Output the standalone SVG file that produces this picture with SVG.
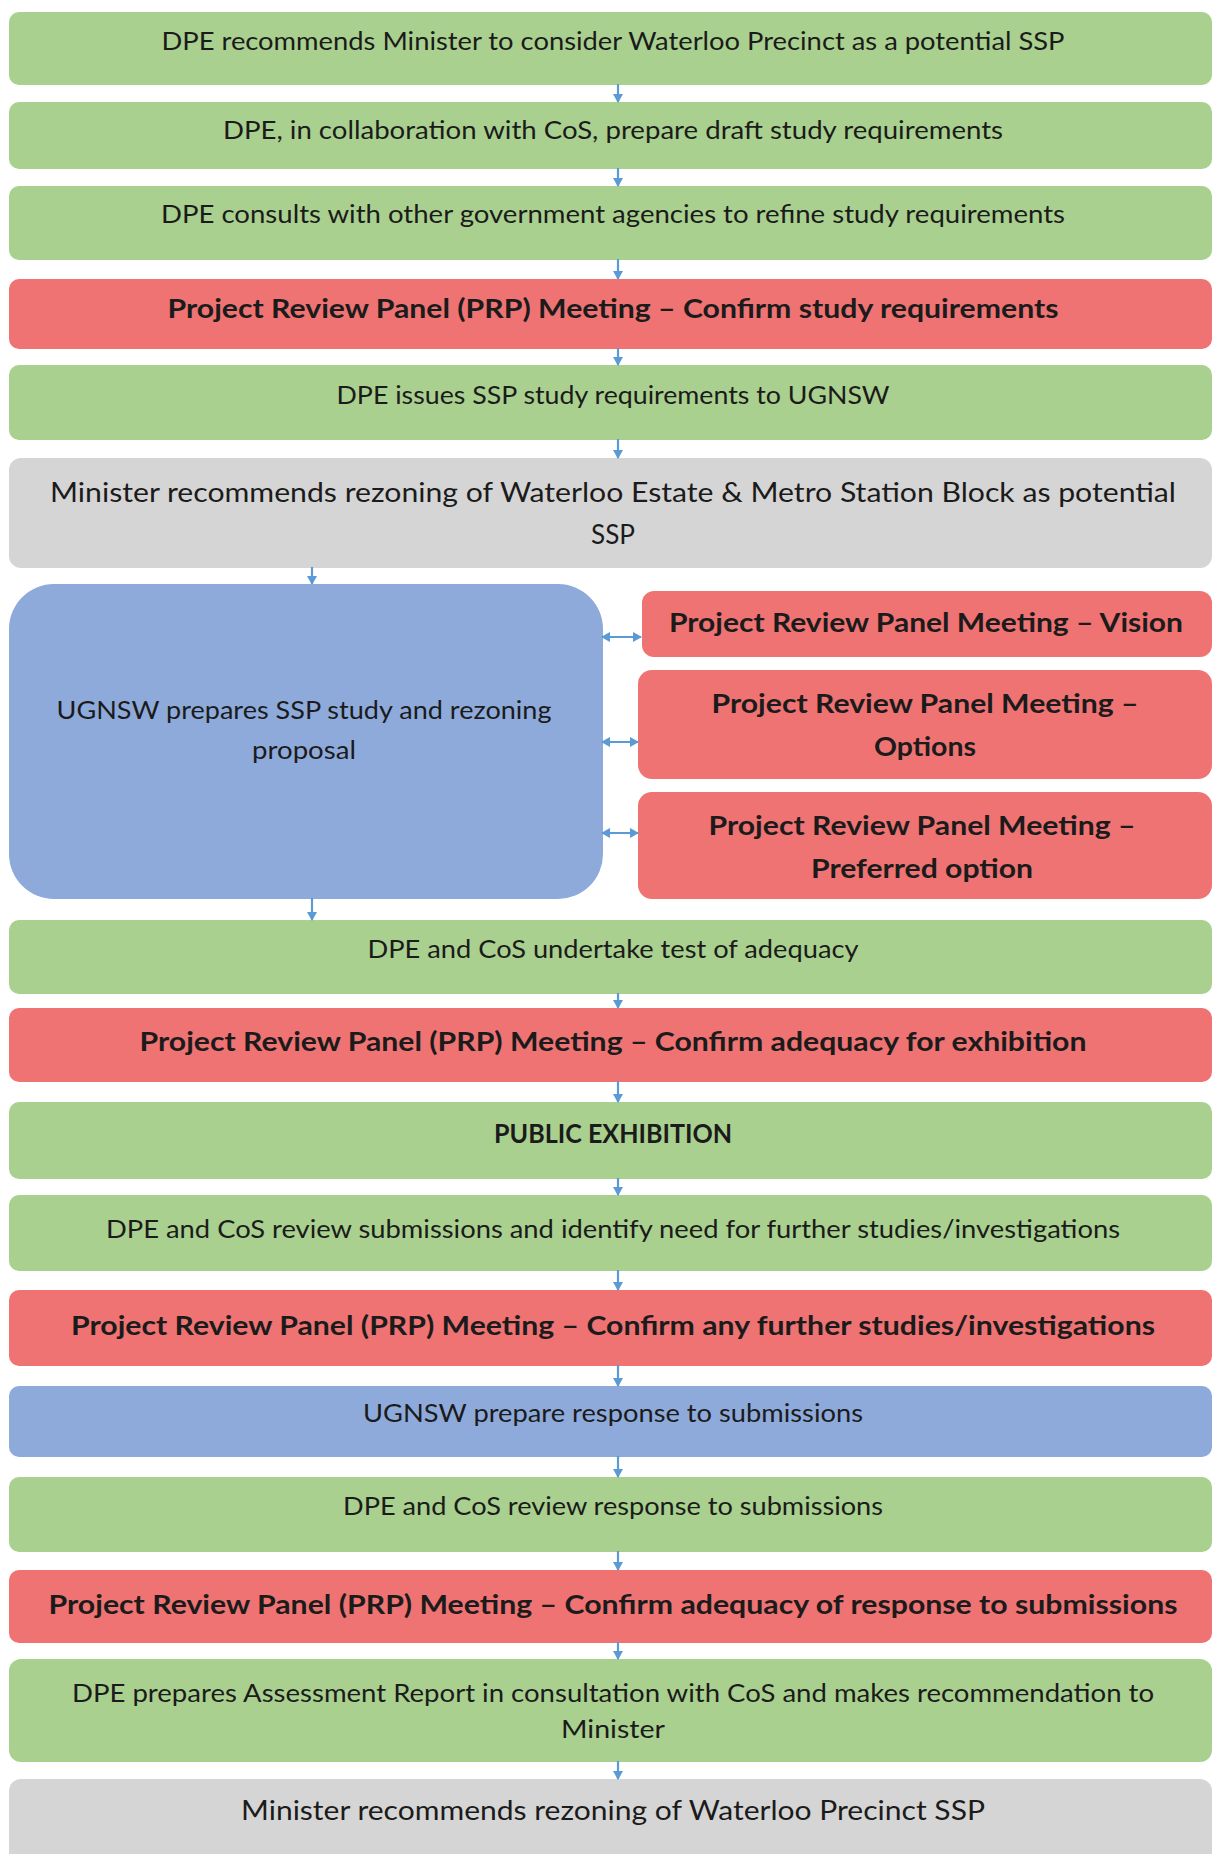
<svg xmlns="http://www.w3.org/2000/svg" width="1213" height="1854" viewBox="0 0 1213 1854">
<defs>
<style>
.g{fill:#a9d08e}
.r{fill:#ef7373}
.gr{fill:#d6d5d5}
.b{fill:#8eaadb}
text{font-family:Lato,"Open Sans","Liberation Sans",sans-serif;font-size:25px;fill:#1b1b1b;text-anchor:middle}
.bold{font-weight:bold;font-size:26px}
.big{font-size:27px}
.c line{stroke:#5b9bd5;stroke-width:2.2;fill:none}
</style>
<marker id="ah" markerWidth="10" markerHeight="10" refX="8" refY="5" orient="auto" markerUnits="userSpaceOnUse">
<path d="M0,0 L9,5 L0,10 Z" fill="#5b9bd5"/>
</marker>
<marker id="as" markerWidth="10" markerHeight="10" refX="1" refY="5" orient="auto" markerUnits="userSpaceOnUse">
<path d="M9,0 L0,5 L9,10 Z" fill="#5b9bd5"/>
</marker>
</defs>
<rect width="1213" height="1854" fill="#ffffff"/>

<g id="n1"><rect class="g" x="9" y="12" width="1203" height="73" rx="10"/><text x="613" y="50" textLength="903" lengthAdjust="spacingAndGlyphs">DPE recommends Minister to consider Waterloo Precinct as a potential SSP</text></g>
<g id="n2"><rect class="g" x="9" y="102" width="1203" height="67" rx="10"/><text x="613" y="139" textLength="780" lengthAdjust="spacingAndGlyphs">DPE, in collaboration with CoS, prepare draft study requirements</text></g>
<g id="n3"><rect class="g" x="9" y="186" width="1203" height="74" rx="10"/><text x="613" y="223" textLength="904" lengthAdjust="spacingAndGlyphs">DPE consults with other government agencies to refine study requirements</text></g>
<g id="n4"><rect class="r" x="9" y="279" width="1203" height="70" rx="10"/><text class="bold" x="613" y="318" textLength="891" lengthAdjust="spacingAndGlyphs">Project Review Panel (PRP) Meeting – Confirm study requirements</text></g>
<g id="n5"><rect class="g" x="9" y="365" width="1203" height="75" rx="10"/><text x="613" y="404" textLength="553" lengthAdjust="spacingAndGlyphs">DPE issues SSP study requirements to UGNSW</text></g>
<g id="n6"><rect class="gr" x="9" y="458" width="1203" height="110" rx="12"/><text class="big" x="613" y="502" textLength="1126" lengthAdjust="spacingAndGlyphs">Minister recommends rezoning of Waterloo Estate &amp; Metro Station Block as potential</text><text class="big" x="613" y="544" textLength="44" lengthAdjust="spacingAndGlyphs">SSP</text></g>
<g id="n7"><rect class="b" x="9" y="584" width="594" height="315" rx="45"/><text x="304" y="719" textLength="495" lengthAdjust="spacingAndGlyphs">UGNSW prepares SSP study and rezoning</text><text x="304" y="759" textLength="104" lengthAdjust="spacingAndGlyphs">proposal</text></g>
<g id="n8"><rect class="r" x="642" y="591" width="570" height="66" rx="12"/><text class="bold" x="926" y="632" textLength="514" lengthAdjust="spacingAndGlyphs">Project Review Panel Meeting – Vision</text></g>
<g id="n9"><rect class="r" x="638" y="670" width="574" height="109" rx="14"/><text class="bold" x="925" y="713" textLength="427" lengthAdjust="spacingAndGlyphs">Project Review Panel Meeting –</text><text class="bold" x="925" y="756" textLength="102" lengthAdjust="spacingAndGlyphs">Options</text></g>
<g id="n10"><rect class="r" x="638" y="792" width="574" height="107" rx="14"/><text class="bold" x="922" y="835" textLength="427" lengthAdjust="spacingAndGlyphs">Project Review Panel Meeting –</text><text class="bold" x="922" y="878" textLength="222" lengthAdjust="spacingAndGlyphs">Preferred option</text></g>
<g id="n11"><rect class="g" x="9" y="920" width="1203" height="74" rx="10"/><text x="613" y="958" textLength="491" lengthAdjust="spacingAndGlyphs">DPE and CoS undertake test of adequacy</text></g>
<g id="n12"><rect class="r" x="9" y="1008" width="1203" height="74" rx="10"/><text class="bold" x="613" y="1051" textLength="947" lengthAdjust="spacingAndGlyphs">Project Review Panel (PRP) Meeting – Confirm adequacy for exhibition</text></g>
<g id="n13"><rect class="g" x="9" y="1102" width="1203" height="77" rx="10"/><text class="bold" x="613" y="1143" textLength="238" lengthAdjust="spacingAndGlyphs">PUBLIC EXHIBITION</text></g>
<g id="n14"><rect class="g" x="9" y="1195" width="1203" height="76" rx="10"/><text x="613" y="1238" textLength="1014" lengthAdjust="spacingAndGlyphs">DPE and CoS review submissions and identify need for further studies/investigations</text></g>
<g id="n15"><rect class="r" x="9" y="1290" width="1203" height="76" rx="10"/><text class="bold" x="613" y="1335" textLength="1084" lengthAdjust="spacingAndGlyphs">Project Review Panel (PRP) Meeting – Confirm any further studies/investigations</text></g>
<g id="n16"><rect class="b" x="9" y="1386" width="1203" height="71" rx="10"/><text x="613" y="1422" textLength="500" lengthAdjust="spacingAndGlyphs">UGNSW prepare response to submissions</text></g>
<g id="n17"><rect class="g" x="9" y="1477" width="1203" height="75" rx="10"/><text x="613" y="1515" textLength="540" lengthAdjust="spacingAndGlyphs">DPE and CoS review response to submissions</text></g>
<g id="n18"><rect class="r" x="9" y="1570" width="1203" height="73" rx="10"/><text class="bold" x="613" y="1614" textLength="1129" lengthAdjust="spacingAndGlyphs">Project Review Panel (PRP) Meeting – Confirm adequacy of response to submissions</text></g>
<g id="n19"><rect class="g" x="9" y="1659" width="1203" height="103" rx="12"/><text x="613" y="1702" textLength="1082" lengthAdjust="spacingAndGlyphs">DPE prepares Assessment Report in consultation with CoS and makes recommendation to</text><text x="613" y="1738" textLength="104" lengthAdjust="spacingAndGlyphs">Minister</text></g>
<g id="n20"><rect class="gr" x="9" y="1779" width="1203" height="90" rx="12"/><text class="big" x="613" y="1820" textLength="744" lengthAdjust="spacingAndGlyphs">Minister recommends rezoning of Waterloo Precinct SSP</text></g>

<g id="connectors" class="c">
<line x1="618" y1="84" x2="618" y2="102" marker-end="url(#ah)"/>
<line x1="618" y1="168" x2="618" y2="186" marker-end="url(#ah)"/>
<line x1="618" y1="259" x2="618" y2="279" marker-end="url(#ah)"/>
<line x1="618" y1="348" x2="618" y2="365" marker-end="url(#ah)"/>
<line x1="618" y1="439" x2="618" y2="458" marker-end="url(#ah)"/>
<line x1="312" y1="567" x2="312" y2="584" marker-end="url(#ah)"/>
<line x1="312" y1="898" x2="312" y2="920" marker-end="url(#ah)"/>
<line x1="618" y1="993" x2="618" y2="1008" marker-end="url(#ah)"/>
<line x1="618" y1="1081" x2="618" y2="1102" marker-end="url(#ah)"/>
<line x1="618" y1="1178" x2="618" y2="1195" marker-end="url(#ah)"/>
<line x1="618" y1="1270" x2="618" y2="1290" marker-end="url(#ah)"/>
<line x1="618" y1="1365" x2="618" y2="1386" marker-end="url(#ah)"/>
<line x1="618" y1="1456" x2="618" y2="1477" marker-end="url(#ah)"/>
<line x1="618" y1="1551" x2="618" y2="1570" marker-end="url(#ah)"/>
<line x1="618" y1="1642" x2="618" y2="1659" marker-end="url(#ah)"/>
<line x1="618" y1="1761" x2="618" y2="1779" marker-end="url(#ah)"/>
<line x1="602" y1="637" x2="641" y2="637" marker-start="url(#as)" marker-end="url(#ah)"/>
<line x1="602" y1="742" x2="638" y2="742" marker-start="url(#as)" marker-end="url(#ah)"/>
<line x1="602" y1="833" x2="638" y2="833" marker-start="url(#as)" marker-end="url(#ah)"/>
</g>
</svg>
